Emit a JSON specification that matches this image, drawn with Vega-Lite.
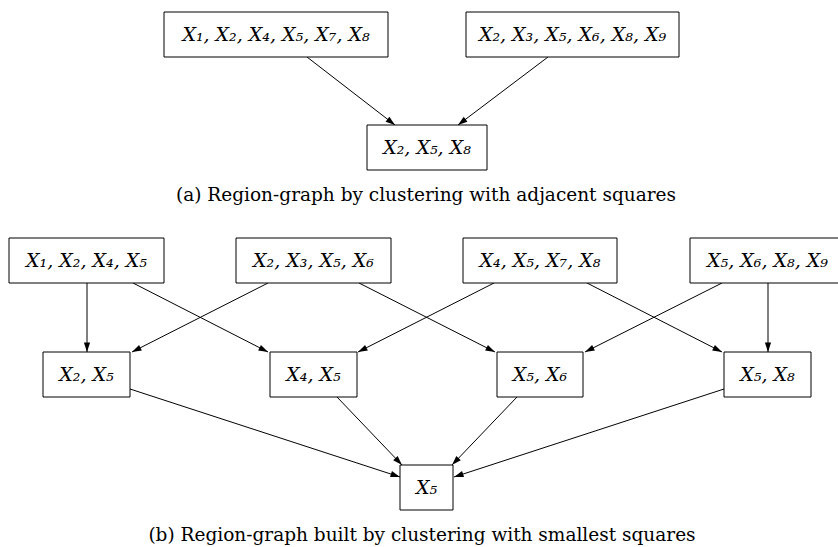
{
  "$schema": "https://vega.github.io/schema/vega-lite/v6.json",
  "width": 838,
  "height": 547,
  "autosize": {"type": "fit", "contains": "padding"},
  "padding": 0,
  "background": "white",
  "config": {"view": {"stroke": null}},
  "datasets": {
    "nodes": [
      {"label": "X₁, X₂, X₄, X₅, X₇, X₈", "left": 164, "right": 388, "top": 12, "bottom": 57, "cx": 276, "cy": 35},
      {"label": "X₂, X₃, X₅, X₆, X₈, X₉", "left": 466, "right": 679, "top": 12, "bottom": 57, "cx": 572.5, "cy": 35},
      {"label": "X₂, X₅, X₈", "left": 367, "right": 487, "top": 125, "bottom": 170, "cx": 427, "cy": 148},
      {"label": "X₁, X₂, X₄, X₅", "left": 9, "right": 164, "top": 238, "bottom": 283, "cx": 86.5, "cy": 261},
      {"label": "X₂, X₃, X₅, X₆", "left": 236, "right": 391, "top": 238, "bottom": 283, "cx": 313.5, "cy": 261},
      {"label": "X₄, X₅, X₇, X₈", "left": 463, "right": 617, "top": 238, "bottom": 283, "cx": 540, "cy": 261},
      {"label": "X₅, X₆, X₈, X₉", "left": 690, "right": 845, "top": 238, "bottom": 283, "cx": 767.5, "cy": 261},
      {"label": "X₂, X₅", "left": 43, "right": 130, "top": 352, "bottom": 397, "cx": 86.5, "cy": 375},
      {"label": "X₄, X₅", "left": 270, "right": 357, "top": 352, "bottom": 397, "cx": 313.5, "cy": 375},
      {"label": "X₅, X₆", "left": 497, "right": 583, "top": 352, "bottom": 397, "cx": 540, "cy": 375},
      {"label": "X₅, X₈", "left": 724, "right": 811, "top": 352, "bottom": 397, "cx": 767.5, "cy": 375},
      {"label": "X₅", "left": 400, "right": 453, "top": 465, "bottom": 510, "cx": 426.5, "cy": 488}
    ],
    "edges": [
      {"x1": 307, "y1": 57, "x2": 395, "y2": 125, "angle": 127.7},
      {"x1": 548, "y1": 57, "x2": 458, "y2": 125, "angle": -127.1},
      {"x1": 87, "y1": 283, "x2": 87, "y2": 352, "angle": 180},
      {"x1": 133, "y1": 283, "x2": 268, "y2": 352, "angle": 117.1},
      {"x1": 268, "y1": 283, "x2": 132, "y2": 352, "angle": -116.9},
      {"x1": 359, "y1": 283, "x2": 495, "y2": 352, "angle": 116.9},
      {"x1": 494, "y1": 283, "x2": 358, "y2": 352, "angle": -116.9},
      {"x1": 587, "y1": 283, "x2": 722, "y2": 352, "angle": 117.1},
      {"x1": 722, "y1": 283, "x2": 585, "y2": 352, "angle": -116.7},
      {"x1": 768, "y1": 283, "x2": 768, "y2": 352, "angle": 180},
      {"x1": 130, "y1": 389, "x2": 400, "y2": 477, "angle": 108.05},
      {"x1": 337, "y1": 397, "x2": 402, "y2": 465, "angle": 136.3},
      {"x1": 517, "y1": 397, "x2": 452, "y2": 465, "angle": -136.3},
      {"x1": 724, "y1": 389, "x2": 454, "y2": 477, "angle": -108.05}
    ],
    "captions": [
      {"text": "(a)  Region-graph by clustering with adjacent squares", "cx": 426, "cy": 201},
      {"text": "(b)  Region-graph built by clustering with smallest squares", "cx": 422, "cy": 541}
    ]
  },
  "layer": [
    {
      "data": {"name": "edges"},
      "mark": {"type": "rule", "color": "#000", "strokeWidth": 1, "clip": true},
      "encoding": {
        "x": {"field": "x1", "type": "quantitative", "scale": {"domain": [0, 838], "nice": false, "zero": false}, "axis": null},
        "y": {"field": "y1", "type": "quantitative", "scale": {"domain": [0, 547], "nice": false, "zero": false, "reverse": true}, "axis": null},
        "x2": {"field": "x2"},
        "y2": {"field": "y2"}
      }
    },
    {
      "data": {"name": "edges"},
      "mark": {"type": "point", "shape": "M0,0L-0.62,1.9L0.62,1.9Z", "filled": true, "color": "#000", "size": 100, "opacity": 1, "clip": true},
      "encoding": {
        "x": {"field": "x2", "type": "quantitative", "scale": {"domain": [0, 838], "nice": false, "zero": false}, "axis": null},
        "y": {"field": "y2", "type": "quantitative", "scale": {"domain": [0, 547], "nice": false, "zero": false, "reverse": true}, "axis": null},
        "angle": {"field": "angle", "type": "quantitative", "scale": null}
      }
    },
    {
      "data": {"name": "nodes"},
      "mark": {"type": "rect", "fill": "white", "stroke": "#000", "strokeWidth": 1, "clip": true},
      "encoding": {
        "x": {"field": "left", "type": "quantitative", "scale": {"domain": [0, 838], "nice": false, "zero": false}, "axis": null},
        "x2": {"field": "right"},
        "y": {"field": "top", "type": "quantitative", "scale": {"domain": [0, 547], "nice": false, "zero": false, "reverse": true}, "axis": null},
        "y2": {"field": "bottom"}
      }
    },
    {
      "data": {"name": "nodes"},
      "mark": {"type": "text", "font": "DejaVu Serif", "fontStyle": "italic", "fontSize": 19, "color": "#000", "align": "center", "baseline": "alphabetic", "dy": 6},
      "encoding": {
        "x": {"field": "cx", "type": "quantitative", "scale": {"domain": [0, 838], "nice": false, "zero": false}, "axis": null},
        "y": {"field": "cy", "type": "quantitative", "scale": {"domain": [0, 547], "nice": false, "zero": false, "reverse": true}, "axis": null},
        "text": {"field": "label"}
      }
    },
    {
      "data": {"name": "captions"},
      "mark": {"type": "text", "font": "DejaVu Serif", "fontSize": 18.5, "color": "#000", "align": "center", "baseline": "alphabetic"},
      "encoding": {
        "x": {"field": "cx", "type": "quantitative", "scale": {"domain": [0, 838], "nice": false, "zero": false}, "axis": null},
        "y": {"field": "cy", "type": "quantitative", "scale": {"domain": [0, 547], "nice": false, "zero": false, "reverse": true}, "axis": null},
        "text": {"field": "text"}
      }
    }
  ]
}
